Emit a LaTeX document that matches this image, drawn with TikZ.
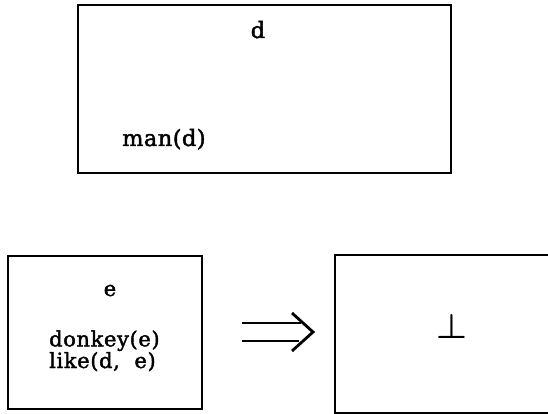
\documentclass[tikz,border=0pt]{standalone}
\usepackage{amsmath}
\usepackage{graphicx}
\usepackage{fontspec}
\setmainfont{DejaVu Serif}
\newfontfamily\topfont[LetterSpace=2,FakeBold=1.8]{DejaVu Serif}
\newfontfamily\botfont[LetterSpace=3,FakeBold=1.8]{DejaVu Serif}
\begin{document}
\begin{tikzpicture}[x=1pt,y=-1pt,
  box/.style={draw, line width=2.6pt, inner sep=0pt, outer sep=0pt},
  toptext/.style={font=\topfont\fontsize{22.5}{26}\selectfont, inner sep=0pt},
  bottext/.style={font=\botfont\fontsize{21}{19}\selectfont, inner sep=0pt, align=left},
  symtext/.style={inner sep=0pt},
  arrline/.style={line width=2.2pt},
  arrhead/.style={line width=2.8pt, line join=miter}]
\useasboundingbox (0,0) rectangle (548,414);
% top box
\node[box, anchor=north west, minimum width=373pt, minimum height=168pt] (topbox) at (78,5) {};
\node[toptext, anchor=base] (dlab) at (258,38) {d};
\node[toptext, anchor=base west] (man) at (122,146) {man(d)};
% bottom left box
\node[box, anchor=north west, minimum width=194pt, minimum height=153pt] (leftbox) at (8,256) {};
\node[bottext, anchor=base] (elab) at (110,296) {e};
\node[bottext, anchor=base west] (preds) at (49,368) {donkey(e)\\like(d,\ \ e)};
% bottom right box (cut off at right)
\node[inner sep=0pt, outer sep=0pt, anchor=north west, minimum width=213pt, minimum height=158pt] (rightbox) at (335,255) {};
\draw[line width=2.6pt] (rightbox.north east) -- (rightbox.north west) -- (rightbox.south west) -- (rightbox.south east);
\node[symtext, anchor=base] (botsym) at (451.5,338) {\resizebox{!}{24pt}{$\boldsymbol{\bot}$}};
% double arrow
\coordinate (a1) at (242,323);
\coordinate (a2) at (301,323);
\coordinate (b1) at (242,341);
\coordinate (b2) at (299,341);
\coordinate (h1) at (292,313);
\coordinate (h2) at (313,332);
\coordinate (h3) at (292,351);
\draw[arrline] (a1) -- (a2);
\draw[arrline] (b1) -- (b2);
\draw[arrhead] (h1) -- (h2) -- (h3);
\end{tikzpicture}
\end{document}
